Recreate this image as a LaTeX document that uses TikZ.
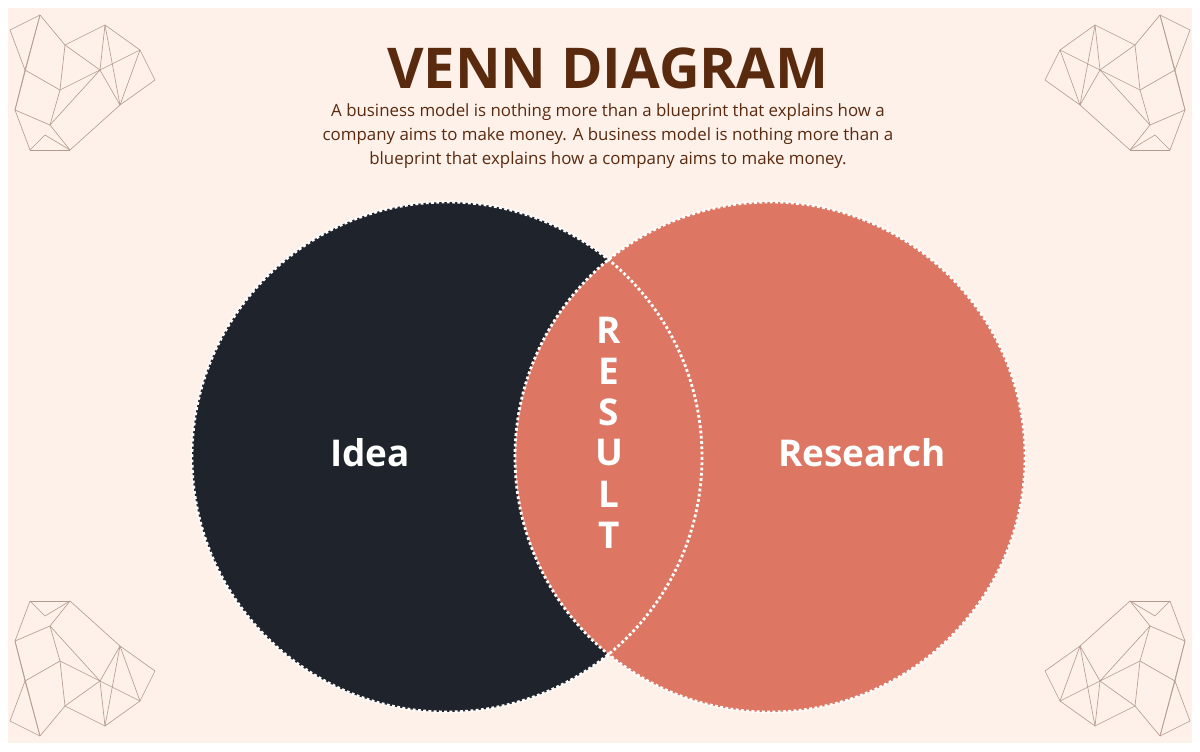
\documentclass[tikz,border=0pt]{standalone}
\usepackage{fontspec}
\setmainfont{Open Sans}
\definecolor{cream}{HTML}{FDF1EA}
\definecolor{ink}{HTML}{1F232B}
\definecolor{coral}{HTML}{DD7763}
\definecolor{brownt}{HTML}{5A2A0F}
\definecolor{netc}{HTML}{B49A8E}
\tikzset{
  set/.style={circle, minimum size=10.2cm, inner sep=0pt},
  rim/.style={draw=white, line width=1.6pt, dash pattern=on 1.6pt off 1.4pt},
  word/.style={text=white, font=\bfseries\fontsize{21}{24}\selectfont},
  net/.style={draw=netc, line width=0.35pt}
}
\newcommand{\webpatch}{%
  \foreach \a/\b in {0/1,1/2,2/3,3/4,4/5,0/6,6/7,7/8,8/3,1/6,2/7,2/8,6/9,9/10,10/7,
                     9/11,11/12,12/10,10/8,8/13,13/4,12/13,3/13,5/13,11/14,14/12,1/9,4/8} {
    \draw[net] (p\a) -- (p\b);
  }}
\begin{document}
\begin{tikzpicture}[x=0.02cm, y=-0.02cm]
  \useasboundingbox (0,0) rectangle (1200,751);
  \fill[white] (0,0) rectangle (1200,751);
  \fill[cream] (8,8) rectangle (1192,743);

  % corner webs
  \foreach \cx/\cy/\sx/\sy in {10/10/1/1, 1190/10/-1/1, 10/741/1/-1, 1190/741/-1/-1} {
    \begin{scope}[shift={(\cx,\cy)}, xscale=\sx, yscale=\sy]
      \coordinate (p0) at (0,20);   \coordinate (p1) at (30,5);
      \coordinate (p2) at (55,35);  \coordinate (p3) at (95,15);
      \coordinate (p4) at (130,40); \coordinate (p5) at (145,70);
      \coordinate (p6) at (15,60);  \coordinate (p7) at (50,80);
      \coordinate (p8) at (90,60);  \coordinate (p9) at (5,100);
      \coordinate (p10) at (40,115);\coordinate (p11) at (20,140);
      \coordinate (p12) at (60,140);\coordinate (p13) at (110,95);
      \coordinate (p14) at (35,125);
      \webpatch
    \end{scope}
  }

  % heading
  \node[text=brownt, font=\bfseries\fontsize{32}{36}\selectfont] (title) at (608,68) {VENN DIAGRAM};
  \node[text=brownt, align=center, font=\fontsize{9.6}{13.6}\selectfont] (blurb) at (608,136)
    {A business model is nothing more than a blueprint that explains how a\\
     company aims to make money. A business model is nothing more than a\\
     blueprint that explains how a company aims to make money.};

  % sets
  \node[set, fill=ink] (idea) at (447,457) {};
  \node[set, fill=coral] (research) at (770,457) {};
  \draw[rim] (idea.center) circle (255);
  \draw[rim] (research.center) circle (255);

  \node[word] (ideaL) at (370,453) {Idea};
  \node[word] (researchL) at (862,453) {Research};
  \foreach \ch [count=\i from 0] in {R,E,S,U,L,T}
    \node[word] (res\i) at (609,330+41*\i) {\ch};
\end{tikzpicture}
\end{document}
